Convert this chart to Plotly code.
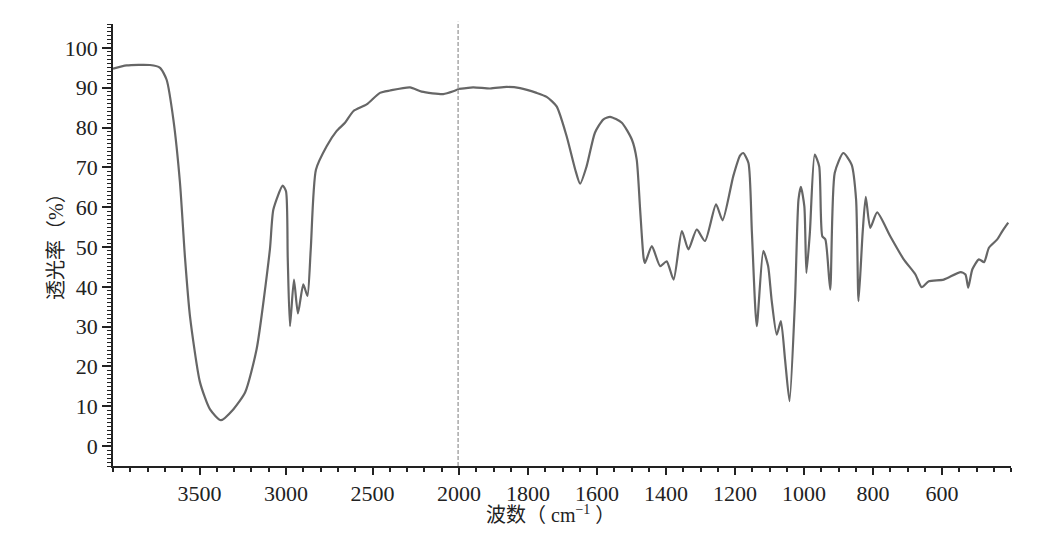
import plotly.graph_objects as go

# Wavenumber (cm-1) and transmittance (%)
wavenumber = [4000, 3921, 3786, 3728, 3690, 3651, 3613, 3584, 3555, 3497, 3439, 3376, 3305, 3236,
              3170, 3093, 3073, 3019, 3000, 2990, 2977, 2954, 2931, 2900, 2876, 2857, 2827, 2765,
              2708, 2659, 2611, 2534, 2457, 2399, 2283, 2216, 2091, 2033, 2000,
              1959, 1910, 1862, 1823, 1775, 1746, 1717, 1688, 1663, 1649, 1630, 1606, 1582, 1562,
              1528, 1499, 1485, 1475, 1465, 1461, 1441, 1417, 1398, 1378, 1354, 1335, 1311, 1287,
              1255, 1236, 1205, 1185, 1176, 1161, 1151, 1137, 1118, 1104, 1094, 1079, 1067, 1055,
              1042, 1026, 1016, 1009, 999, 993, 983, 969, 956, 947, 938, 924, 911, 886, 862, 849,
              842, 830, 821, 808, 788, 750, 711, 677, 659, 638, 595, 546, 532, 524, 512, 493, 478,
              464, 440, 425, 408]
transmittance = [94.8, 95.6, 95.7, 95.0, 92.0, 82.0, 66.2, 47.4, 32.6, 16.0, 9.2, 6.5, 9.2, 13.5,
                 24.3, 49.4, 59.4, 65.4, 64.0, 47.3, 30.1, 41.8, 33.3, 40.6, 37.7, 49.4, 69.4, 75.3,
                 79.1, 81.2, 84.1, 85.8, 88.7, 89.3, 90.1, 89.0, 88.4, 89.1, 89.7,
                 90.1, 89.8, 90.2, 89.9, 88.7, 87.7, 85.3, 77.8, 69.4, 65.9, 70.3, 78.7, 82.0, 82.7,
                 81.2, 77.0, 72.0, 59.4, 47.3, 46.0, 50.2, 45.2, 46.4, 41.8, 54.0, 49.4, 54.4, 51.5,
                 60.7, 56.7, 67.8, 73.0, 73.6, 71.1, 53.6, 30.1, 49.0, 45.2, 36.8, 28.0, 31.4, 21.8,
                 11.3, 36.8, 61.9, 65.1, 60.2, 43.5, 53.6, 73.2, 70.3, 52.7, 51.9, 39.3, 68.6, 73.6,
                 70.7, 61.9, 36.4, 53.6, 62.6, 54.8, 58.7, 52.7, 46.9, 43.1, 39.9, 41.4, 41.8, 43.7,
                 43.1, 39.8, 44.4, 46.9, 46.2, 49.8, 51.9, 54.0, 56.1]

left_ticks = [3500, 3000, 2500, 2000]
right_ticks = [1800, 1600, 1400, 1200, 1000, 800, 600]
y_ticks = [0, 10, 20, 30, 40, 50, 60, 70, 80, 90, 100]

hi = [(w, t) for w, t in zip(wavenumber, transmittance) if w >= 2000]
lo = [(w, t) for w, t in zip(wavenumber, transmittance) if w <= 2000]

line_style = dict(color="#666666", width=2.2, shape="spline", smoothing=0.6)
fig = go.Figure()
fig.add_trace(go.Scatter(x=[p[0] for p in hi], y=[p[1] for p in hi], mode="lines",
                         line=line_style, xaxis="x", yaxis="y", hoverinfo="skip"))
fig.add_trace(go.Scatter(x=[p[0] for p in lo], y=[p[1] for p in lo], mode="lines",
                         line=line_style, xaxis="x2", yaxis="y", hoverinfo="skip"))

# page body adds an 8px offset; margins compensate so the plot box lands at 113..1011 x 24..466
OFF = 8
L, R, T, B = 113 - OFF, 35 + OFF, 24 - OFF, 89 + OFF
W, H = 1046, 555
pw = W - L - R
ph = H - T - B
split = (459 - 113) / pw
font = "Liberation Serif, Times New Roman, Noto Sans CJK SC, serif"
FS = 22
TFS = 20

common_x = dict(showgrid=False, zeroline=False, showline=True, linecolor="#222", linewidth=1.5,
                ticks="outside", ticklen=7, tickwidth=2, tickcolor="#222",
                tickfont=dict(family=font, size=FS, color="#222"), anchor="y")
fig.update_layout(
    width=W, height=H, margin=dict(l=L, r=R, t=T, b=B),
    paper_bgcolor="white", plot_bgcolor="white", showlegend=False,
    xaxis=dict(domain=[0, split], range=[4000, 2000], tickmode="array", tickvals=left_ticks,
               ticktext=[str(v) for v in left_ticks],
               minor=dict(tickmode="array", tickvals=list(range(4000, 1999, -100)),
                          ticks="outside", ticklen=4, tickwidth=2, tickcolor="#222"),
               **common_x),
    xaxis2=dict(domain=[split, 1], range=[2000, 400], tickmode="array", tickvals=right_ticks,
                ticktext=[str(v) for v in right_ticks],
                minor=dict(tickmode="array", tickvals=list(range(2000, 399, -50)),
                           ticks="outside", ticklen=4, tickwidth=2, tickcolor="#222"),
                **common_x),
    yaxis=dict(range=[-5, 106], domain=[0, 1], showgrid=False, zeroline=False, showline=True,
               linecolor="#222", linewidth=1.5, ticks="outside", ticklen=9, tickwidth=2,
               tickcolor="#222", tickmode="array", tickvals=y_ticks,
               tickfont=dict(family=font, size=FS, color="#222"),
               minor=dict(dtick=1, tick0=0, ticks="outside", ticklen=4, tickwidth=1.2,
                          tickcolor="#222")),
)

fig.add_shape(type="line", xref="x", yref="paper", x0=2000, x1=2000, y0=0, y1=1.005,
              line=dict(color="#b4b4b4", width=3.5, dash="4px,2px"))

fig.add_annotation(text="波数（ cm<sup>−1</sup> ）", xref="paper", yref="paper",
                   x=(550 - 113) / pw, y=-(514 - 466) / ph, showarrow=False,
                   font=dict(family=font, size=TFS, color="#222"), xanchor="center", yanchor="middle")
fig.add_annotation(text="透光率（%）", xref="paper", yref="paper",
                   x=(56 - 113) / pw, y=(466 - 242) / ph, showarrow=False, textangle=-90,
                   font=dict(family=font, size=TFS, color="#222"), xanchor="center", yanchor="middle")

fig.write_html("out.html")
